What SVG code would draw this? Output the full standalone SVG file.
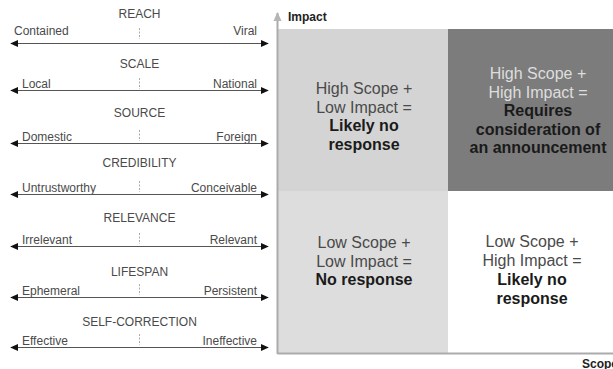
<svg xmlns="http://www.w3.org/2000/svg" width="613" height="369" viewBox="0 0 613 369">
  <style>
    .title { font-family: "Liberation Sans", Arial, sans-serif; font-size: 12px; fill: #4a4a4a; text-anchor: middle; }
    .lbl { font-family: "Liberation Sans", Arial, sans-serif; font-size: 12px; fill: #4a4a4a; }
    .end { text-anchor: end; }
    .scale { stroke: #555; stroke-width: 1; fill: none; }
    .tick { stroke: #aaa; stroke-width: 1; stroke-dasharray: 2 1.5; }
    .axis { stroke: #ababab; stroke-width: 2; fill: none; }
    .axlbl { font-family: "Liberation Sans", Arial, sans-serif; font-size: 12px; font-weight: bold; fill: #222; }
    .q { font-family: "Liberation Sans", Arial, sans-serif; font-size: 16px; text-anchor: middle; fill: #4a4a4a; }
    .qb { font-weight: bold; fill: #1a1a1a; }
    .qlight { fill: #dedede; }
  </style>
  <defs>
    <marker id="arrowEnd" viewBox="0 0 10 10" refX="9" refY="5" markerWidth="8" markerHeight="8" markerUnits="userSpaceOnUse" orient="auto">
      <path d="M0,0.5 L10,5 L0,9.5 Z" fill="#111"/>
    </marker>
    <marker id="arrowStart" viewBox="0 0 10 10" refX="1" refY="5" markerWidth="8" markerHeight="8" markerUnits="userSpaceOnUse" orient="auto">
      <path d="M10,0.5 L0,5 L10,9.5 Z" fill="#111"/>
    </marker>
    <marker id="axisArrow" viewBox="0 0 10 10" refX="9" refY="5" markerWidth="9" markerHeight="9" markerUnits="userSpaceOnUse" orient="auto">
      <path d="M0,0.5 L10,5 L0,9.5 Z" fill="#b5b5b5"/>
    </marker>
  </defs>

  <!-- quadrant fills -->
  <g id="quad-high-scope-low-impact">
    <rect x="278" y="29" width="170" height="162" fill="#d4d4d4"/>
    <text class="q" x="364" y="94">High Scope +</text>
    <text class="q" x="364" y="112.5">Low Impact =</text>
    <text class="q qb" x="364" y="131">Likely no</text>
    <text class="q qb" x="364" y="149.5">response</text>
  </g>
  <g id="quad-high-scope-high-impact">
    <rect x="448" y="29" width="165" height="162" fill="#7c7c7c"/>
    <text class="q qlight" x="538" y="79">High Scope +</text>
    <text class="q qlight" x="538" y="97.5">High Impact =</text>
    <text class="q qb" x="538" y="116">Requires</text>
    <text class="q qb" x="538" y="134.5">consideration of</text>
    <text class="q qb" x="538" y="153">an announcement</text>
  </g>
  <g id="quad-low-scope-low-impact">
    <rect x="278" y="191" width="170" height="162" fill="#dddddd"/>
    <text class="q" x="364" y="248">Low Scope +</text>
    <text class="q" x="364" y="266.5">Low Impact =</text>
    <text class="q qb" x="364" y="285">No response</text>
  </g>
  <g id="quad-low-scope-high-impact">
    <rect x="448" y="191" width="165" height="162" fill="#ffffff"/>
    <text class="q" x="532" y="247">Low Scope +</text>
    <text class="q" x="532" y="265.5">High Impact =</text>
    <text class="q qb" x="532" y="285">Likely no</text>
    <text class="q qb" x="532" y="304">response</text>
  </g>

  <!-- axes -->
  <g id="connectors">
    <path class="axis" d="M277.5,354 L277.5,13" marker-end="url(#axisArrow)"/>
    <path class="axis" d="M277.5,353.5 L613,353.5"/>
  </g>
  <text class="axlbl" x="288" y="21">Impact</text>
  <text class="axlbl" x="582" y="368">Scope</text>

  <!-- attribute scales -->
  <g id="scale-reach">
    <text class="title" x="139.5" y="18">REACH</text>
    <line class="tick" x1="139.5" y1="28" x2="139.5" y2="39"/>
    <text class="lbl" x="14" y="35">Contained</text>
    <text class="lbl end" x="257" y="35">Viral</text>
    <line class="scale" x1="11" y1="43.5" x2="268" y2="43.5" marker-start="url(#arrowStart)" marker-end="url(#arrowEnd)"/>
  </g>
  <g id="scale-scale">
    <text class="title" x="139.5" y="68">SCALE</text>
    <line class="tick" x1="139.5" y1="78" x2="139.5" y2="89"/>
    <text class="lbl" x="22" y="88">Local</text>
    <text class="lbl end" x="257" y="88">National</text>
    <line class="scale" x1="11" y1="90.5" x2="268" y2="90.5" marker-start="url(#arrowStart)" marker-end="url(#arrowEnd)"/>
  </g>
  <g id="scale-source">
    <text class="title" x="139.5" y="117">SOURCE</text>
    <line class="tick" x1="139.5" y1="130" x2="139.5" y2="141"/>
    <text class="lbl" x="22" y="141">Domestic</text>
    <text class="lbl end" x="257" y="141">Foreign</text>
    <line class="scale" x1="11" y1="143.5" x2="268" y2="143.5" marker-start="url(#arrowStart)" marker-end="url(#arrowEnd)"/>
  </g>
  <g id="scale-credibility">
    <text class="title" x="139.5" y="167">CREDIBILITY</text>
    <line class="tick" x1="139.5" y1="181" x2="139.5" y2="192"/>
    <text class="lbl" x="22" y="192">Untrustworthy</text>
    <text class="lbl end" x="257" y="192">Conceivable</text>
    <line class="scale" x1="11" y1="194.5" x2="268" y2="194.5" marker-start="url(#arrowStart)" marker-end="url(#arrowEnd)"/>
  </g>
  <g id="scale-relevance">
    <text class="title" x="139.5" y="222">RELEVANCE</text>
    <line class="tick" x1="139.5" y1="233" x2="139.5" y2="244"/>
    <text class="lbl" x="22" y="244">Irrelevant</text>
    <text class="lbl end" x="257" y="244">Relevant</text>
    <line class="scale" x1="11" y1="246.5" x2="268" y2="246.5" marker-start="url(#arrowStart)" marker-end="url(#arrowEnd)"/>
  </g>
  <g id="scale-lifespan">
    <text class="title" x="139.5" y="276">LIFESPAN</text>
    <line class="tick" x1="139.5" y1="284" x2="139.5" y2="295"/>
    <text class="lbl" x="22" y="295">Ephemeral</text>
    <text class="lbl end" x="257" y="295">Persistent</text>
    <line class="scale" x1="11" y1="297.5" x2="268" y2="297.5" marker-start="url(#arrowStart)" marker-end="url(#arrowEnd)"/>
  </g>
  <g id="scale-self-correction">
    <text class="title" x="139.5" y="326">SELF-CORRECTION</text>
    <line class="tick" x1="139.5" y1="334" x2="139.5" y2="345"/>
    <text class="lbl" x="22" y="345">Effective</text>
    <text class="lbl end" x="257" y="345">Ineffective</text>
    <line class="scale" x1="11" y1="347.5" x2="268" y2="347.5" marker-start="url(#arrowStart)" marker-end="url(#arrowEnd)"/>
  </g>
</svg>
